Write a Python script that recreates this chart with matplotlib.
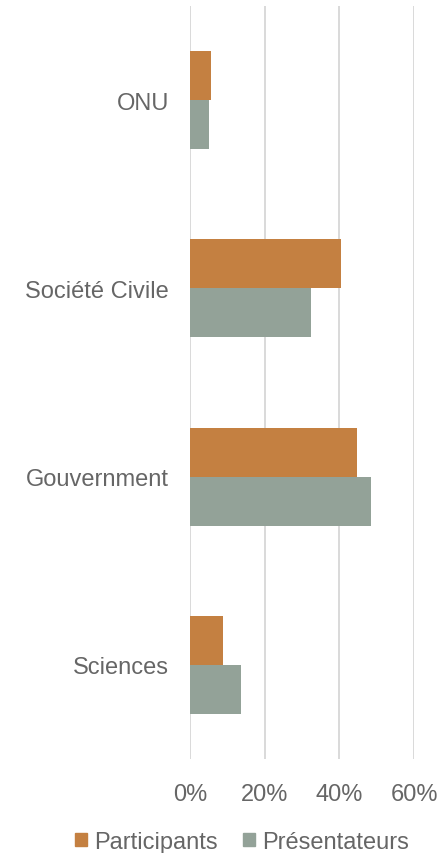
import matplotlib.pyplot as plt
import numpy as np
from matplotlib.patches import Patch

categories = ['ONU', 'Société Civile', 'Gouvernment', 'Sciences']
participants = [0.056, 0.404, 0.447, 0.088]
presentateurs = [0.051, 0.324, 0.485, 0.137]
series_names = ['Participants', 'Présentateurs']
xticks = [0, 0.2, 0.4, 0.6]
xtick_labels = ['0%', '20%', '40%', '60%']

orange = '#C48041'
grey = '#93A298'
text_col = '#666666'

plt.rcParams['font.family'] = ['Liberation Sans', 'DejaVu Sans']

fig = plt.figure(figsize=(4.46, 8.54), dpi=100)
ax = fig.add_axes([190 / 446, 1 - 760 / 854, 224 / 446, 753 / 854])

y = np.arange(len(categories))
h = 0.26
ax.barh(y - h / 2, participants, height=h, color=orange, zorder=3)
ax.barh(y + h / 2, presentateurs, height=h, color=grey, zorder=3)

ax.set_ylim(3.5, -0.5)
ax.set_xlim(0, 0.6)
ax.set_yticks(y)
ax.set_yticklabels(categories)
ax.set_xticks(xticks)
ax.set_xticklabels(xtick_labels)
ax.tick_params(axis='y', length=0, pad=15, labelsize=17, labelcolor=text_col)
ax.tick_params(axis='x', length=0, pad=17, labelsize=17, labelcolor=text_col)
ax.grid(axis='x', color='#d9d9d9', linewidth=1.4, zorder=0)
for s in ax.spines.values():
    s.set_visible(False)

handles = [Patch(color=orange), Patch(color=grey)]
fig.legend(handles, series_names, loc='center', bbox_to_anchor=(242 / 446, 1 - 843 / 854),
           ncol=2, frameon=False, fontsize=17, labelcolor=text_col,
           handlelength=0.51, handleheight=0.51, handletextpad=0.3,
           columnspacing=1.1, borderpad=0)

fig.savefig('out.png', dpi=100)
